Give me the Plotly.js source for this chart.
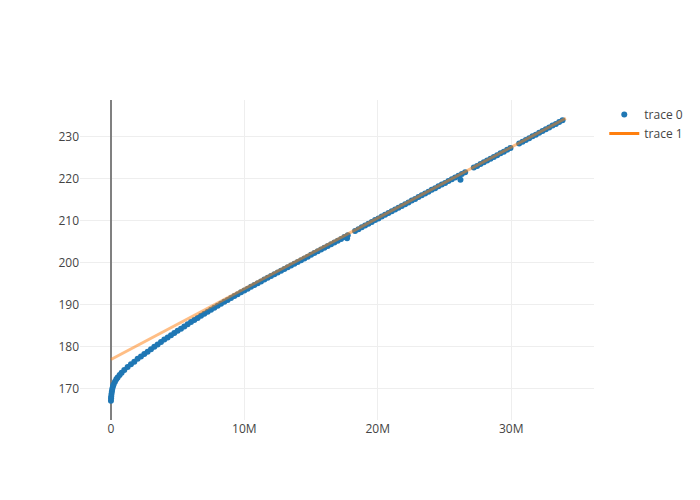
<!DOCTYPE html>
<html>
<head>
<meta charset="utf-8">
<script src="https://cdn.plot.ly/plotly-3.0.1.min.js"></script>
<style>html,body{margin:0;padding:0;background:#fff;}</style>
</head>
<body>
<div id="chart" style="width:700px;height:500px;"></div>
<script>
// trace 0 : x in millions, y values
var xScatterM = [
  0, 0.01, 0.02, 0.04, 0.07, 0.1, 0.15, 0.2, 0.3, 0.4, 0.5, 0.65, 0.8,
  1.0, 1.25, 1.5, 1.75, 2.0, 2.25, 2.5, 2.75, 3.0, 3.25, 3.5, 3.75,
  4.0, 4.25, 4.5, 4.75, 5.0, 5.25, 5.5, 5.75, 6.0, 6.25, 6.5, 6.75,
  7.0, 7.25, 7.5, 7.75, 8.0, 8.25, 8.5, 8.75, 9.0, 9.25, 9.5, 9.75,
  10.0, 10.25, 10.5, 10.75, 11.0, 11.25, 11.5, 11.75, 12.0, 12.25, 12.5, 12.75,
  13.0, 13.25, 13.5, 13.75, 14.0, 14.25, 14.5, 14.75, 15.0, 15.25, 15.5, 15.75,
  16.0, 16.25, 16.5, 16.75, 17.0, 17.25, 17.5, 17.7, 17.75,
  18.3, 18.55, 18.8, 19.05, 19.3, 19.55, 19.8, 20.05, 20.3, 20.55, 20.8,
  21.05, 21.3, 21.55, 21.8, 22.05, 22.3, 22.55, 22.8, 23.05, 23.3, 23.55, 23.8,
  24.05, 24.3, 24.55, 24.8, 25.05, 25.3, 25.55, 25.8, 26.05, 26.2, 26.3, 26.55,
  27.2, 27.45, 27.7, 27.95, 28.2, 28.45, 28.7, 28.95, 29.2, 29.45, 29.7, 29.95,
  30.6, 30.85, 31.1, 31.35, 31.6, 31.85, 32.1, 32.35, 32.6, 32.85, 33.1, 33.35,
  33.6, 33.85
];
var yScatter = [
  167.2, 167.8, 168.2, 168.8, 169.4, 170.0, 170.55, 171.05, 171.7, 172.3, 172.75, 173.3, 173.85,
  174.5, 175.2, 175.9, 176.5, 177.17, 177.74, 178.31, 178.88, 179.46, 180.03, 180.6, 181.17,
  181.74, 182.26, 182.78, 183.3, 183.83, 184.35, 184.87, 185.39, 185.91, 186.41, 186.9, 187.4,
  187.9, 188.38, 188.87, 189.35, 189.83, 190.29, 190.75, 191.2, 191.67, 192.12, 192.56, 193.01,
  193.45, 193.88, 194.31, 194.74, 195.18, 195.6, 196.03, 196.45, 196.87, 197.29, 197.71, 198.13,
  198.56, 198.98, 199.4, 199.82, 200.24, 200.66, 201.08, 201.5, 201.93, 202.35, 202.77, 203.19,
  203.62, 204.04, 204.46, 204.88, 205.31, 205.73, 206.15, 205.9, 206.57,
  207.6, 208.05, 208.5, 208.9, 209.35, 209.75, 210.2, 210.6, 211.05, 211.45, 211.9,
  212.3, 212.7, 213.15, 213.55, 214.0, 214.4, 214.85, 215.25, 215.7, 216.1, 216.55, 216.95,
  217.4, 217.8, 218.25, 218.65, 219.05, 219.5, 219.9, 220.35, 220.75, 219.8, 221.15, 221.6,
  222.7, 223.1, 223.55, 223.95, 224.4, 224.8, 225.25, 225.65, 226.1, 226.5, 226.95, 227.35,
  228.45, 228.85, 229.3, 229.7, 230.15, 230.55, 231.0, 231.4, 231.85, 232.25, 232.7, 233.1,
  233.55, 233.95
];
// trace 1 : fitted line end points
var xLineM = [0, 34.1];
var yLine = [177.0, 234.46];

var traceNames = ["trace 0", "trace 1"];

var trace0 = {
  x: xScatterM.map(function (v) { return v * 1e6; }),
  y: yScatter,
  mode: "markers",
  type: "scatter",
  name: traceNames[0],
  marker: { color: "#1f77b4", size: 6 }
};
var trace1 = {
  x: xLineM.map(function (v) { return v * 1e6; }),
  y: yLine,
  mode: "lines",
  type: "scatter",
  name: traceNames[1],
  opacity: 0.5,
  showlegend: false,
  line: { color: "#ff7f0e", width: 3 }
};
// legend entry for trace 1, drawn at full colour as in the reference
var trace1Legend = {
  x: [null],
  y: [null],
  mode: "lines",
  type: "scatter",
  name: traceNames[1],
  hoverinfo: "skip",
  line: { color: "#ff7f0e", width: 3 }
};

var layout = {
  width: 700,
  height: 500,
  paper_bgcolor: "#fff",
  plot_bgcolor: "#fff",
  font: { family: "'Open Sans', verdana, arial, sans-serif", size: 12, color: "#444" },
  margin: { l: 80, r: 80, t: 100, b: 80 },
  xaxis: { range: [-2.32e6, 36.21e6], gridcolor: "#eee", zeroline: true, zerolinecolor: "#808080", zerolinewidth: 1.5 },
  yaxis: { range: [162.6, 238.8], gridcolor: "#eee" },
  showlegend: true
};

Plotly.newPlot("chart", [trace0, trace1, trace1Legend], layout, { displayModeBar: false });
</script>
</body>
</html>
